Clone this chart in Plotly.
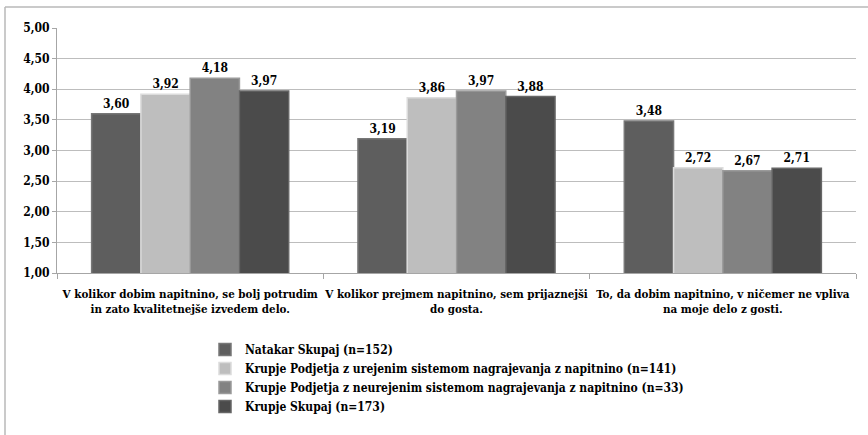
import plotly.graph_objects as go

categories = [
    "V kolikor dobim napitnino, se bolj potrudim<br>in zato kvalitetnejše izvedem delo.",
    "V kolikor prejmem napitnino, sem prijaznejši<br>do gosta.",
    "To, da dobim napitnino, v ničemer ne vpliva<br>na moje delo z gosti.",
]
series_names = [
    "Natakar Skupaj (n=152)",
    "Krupje Podjetja z urejenim sistemom nagrajevanja z napitnino (n=141)",
    "Krupje Podjetja z neurejenim sistemom nagrajevanja z napitnino (n=33)",
    "Krupje Skupaj (n=173)",
]
natakar_skupaj = [3.60, 3.19, 3.48]
krupje_urejen = [3.92, 3.86, 2.72]
krupje_neurejen = [4.18, 3.97, 2.67]
krupje_skupaj = [3.97, 3.88, 2.71]
values = [natakar_skupaj, krupje_urejen, krupje_neurejen, krupje_skupaj]
colors = ["#5e5e5e", "#bebebe", "#828282", "#4b4b4b"]
edges = ["#777777", "#dcdcdc", "#9a9a9a", "#666666"]

W, H = 868, 435
L, R, T, B = 57, 12, 28, 162
pw, ph = W - L - R, H - T - B

FF = "DejaVu Serif Condensed"

def fnt(size, fam=FF):
    return dict(family=fam, size=size, color="#000000", weight="bold")

fig = go.Figure()
for name, vals, c, e in zip(series_names, values, colors, edges):
    fig.add_trace(go.Bar(
        x=categories, y=vals, name=name,
        marker=dict(color=c, line=dict(color=e, width=1.5)),
        texttemplate="%{y:.2f}", textposition="outside",
        textfont=fnt(12),
        cliponaxis=False,
    ))

fig.update_layout(
    width=W, height=H,
    margin=dict(l=L, r=R, t=T, b=B, autoexpand=False),
    paper_bgcolor="white", plot_bgcolor="white",
    barmode="group", bargap=0.26, bargroupgap=0,
    separators=", ",
    font=fnt(12),
    legend=dict(
        xref="container", yref="container",
        x=205 / W, y=1 - 335 / H, xanchor="left", yanchor="top",
        font=fnt(12),
        bgcolor="rgba(0,0,0,0)", itemwidth=30,
    ),
    showlegend=True,
    shapes=[
        dict(type="line", xref="paper", yref="paper",
             x0=(5 - L) / pw, x1=(W + 5 - L) / pw,
             y0=1 + (T - 7) / ph, y1=1 + (T - 7) / ph,
             line=dict(color="#b8b8b8", width=1.5)),
        dict(type="line", xref="paper", yref="paper",
             x0=(5 - L) / pw, x1=(5 - L) / pw,
             y0=1 + (T - 7) / ph, y1=-(H + 5 - T - ph) / ph,
             line=dict(color="#b8b8b8", width=1.5)),
    ],
)
fig.update_xaxes(
    showline=True, linecolor="#a6a6a6", linewidth=1,
    ticks="outside", tickson="boundaries", ticklen=5, tickcolor="#a6a6a6",
    tickfont=fnt(11.5), tickangle=0, ticklabelstandoff=10,
    showgrid=False,
)
fig.update_yaxes(
    range=[1, 5], dtick=0.5, tickformat=".2f",
    showline=True, linecolor="#a6a6a6", linewidth=1,
    ticks="outside", ticklen=4, tickcolor="#a6a6a6",
    showgrid=True, gridcolor="#bdbdbd", gridwidth=1,
    tickfont=fnt(12),
    zeroline=False,
)

fig.write_html("out.html", config={"displayModeBar": False},
               post_script="document.body.style.margin='0';document.body.style.padding='0';")
